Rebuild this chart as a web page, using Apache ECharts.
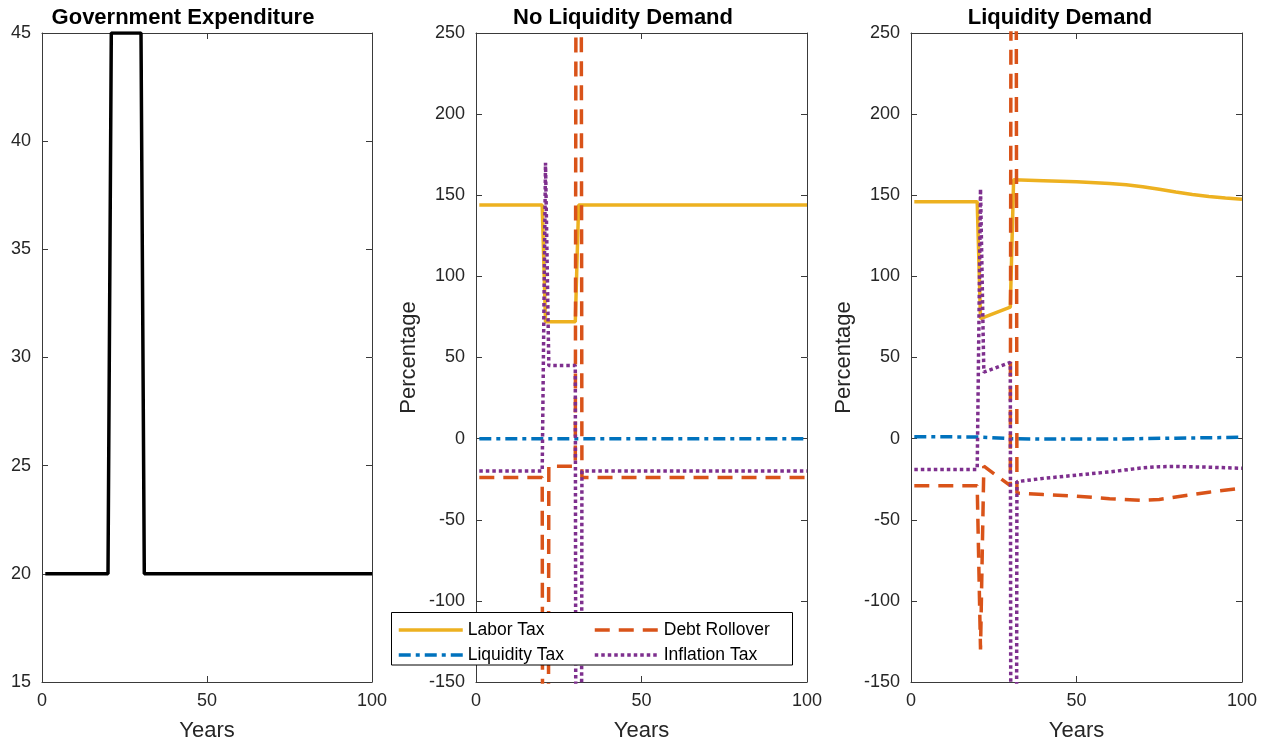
<!DOCTYPE html>
<html>
<head>
<meta charset="utf-8">
<script src="https://cdn.jsdelivr.net/npm/echarts@6/dist/echarts.min.js"></script>
<style>
html,body{margin:0;padding:0;background:#fff;}
#chart{width:1265px;height:745px;}
</style>
</head>
<body>
<div id="chart"></div>
<script>
// ---------- data ----------
const titles = ['Government Expenditure', 'No Liquidity Demand', 'Liquidity Demand'];
const xTicks = [0, 50, 100];
const govYTicks = [15, 20, 25, 30, 35, 40, 45];
const pctYTicks = [-150, -100, -50, 0, 50, 100, 150, 200, 250];
const seriesNames = ['Labor Tax', 'Liquidity Tax', 'Debt Rollover', 'Inflation Tax'];

// Panel 1: government expenditure [year, value]
const govExp = [[1,20],[20,20],[21,45],[30,45],[31,20],[100,20]];

// Panel 2: no liquidity demand [year, percentage]
const noLiqLabor = [[1,144],[20,144],[21,72],[30,72],[31,144],[100,144]];
const noLiqLiquidity = [[1,0],[100,0]];
const noLiqDebt = [[1,-24],[20,-24],[21,-1500],[22,-17],[30,-17],[31,1500],[32,-24],[100,-24]];
const noLiqInflation = [[1,-20],[20,-20],[21,170],[22,45],[30,45],[31,-1500],[32,-20],[100,-20]];

// Panel 3: liquidity demand [year, percentage]
const liqLabor = [[1,146],[20,146],[21,74],[30,81],[31,159.5],[40,159],[50,158.3],[60,157.3],[65,156.5],[70,155.3],[75,153.7],[80,152],[85,150.5],[90,149.2],[95,148.3],[100,147.6]];
const liqLiquidity = [[1,1.2],[20,1],[30,0],[40,-0.3],[60,-0.3],[80,0.3],[100,0.8]];
const liqDebt = [[1,-29],[20,-29],[21,-130],[22,-17],[30,-29],[31,1500],[32,-33.5],[40,-34.5],[50,-35.5],[60,-37],[70,-38],[75,-37.5],[80,-36],[90,-33],[100,-30.5]];
const liqInflation = [[1,-19],[20,-19],[21,154],[22,41],[30,47],[31,-1500],[32,-26.5],[40,-24.5],[50,-22.5],[60,-20.5],[70,-18],[75,-17.3],[80,-17.2],[90,-17.6],[100,-18.3]];

// ---------- styles ----------
const FONT = '"Liberation Sans", Arial, Helvetica, sans-serif';
const AX = '#3a3a3a';
const TXT = '#262626';
const COLORS = {'Labor Tax':'#EDB120','Liquidity Tax':'#0072BD','Debt Rollover':'#D95319','Inflation Tax':'#7E2F8E'};
const DASH = {'Labor Tax':'solid','Liquidity Tax':[12,5,4,5],'Debt Rollover':[15,9],'Inflation Tax':[3.5,3]};

const grids = [
  {left:42, top:33, width:330, height:649, containLabel:false, outerBoundsMode:'none'},
  {left:476, top:33, width:331, height:649, containLabel:false, outerBoundsMode:'none'},
  {left:911, top:33, width:331, height:649, containLabel:false, outerBoundsMode:'none'}
];
const yRanges = [
  {min: govYTicks[0], max: govYTicks[govYTicks.length-1], interval: govYTicks[1]-govYTicks[0]},
  {min: pctYTicks[0], max: pctYTicks[pctYTicks.length-1], interval: pctYTicks[1]-pctYTicks[0]},
  {min: pctYTicks[0], max: pctYTicks[pctYTicks.length-1], interval: pctYTicks[1]-pctYTicks[0]}
];
const xRange = {min: xTicks[0], max: xTicks[xTicks.length-1], interval: xTicks[1]-xTicks[0]};

const xAxes = [], yAxes = [];
for (let g = 0; g < 3; g++) {
  xAxes.push({
    type:'value', gridIndex:g, position:'bottom', ...xRange,
    name:'Years', nameLocation:'middle', nameGap:38,
    nameTextStyle:{fontFamily:FONT, fontSize:22, color:TXT},
    axisLine:{show:true, onZero:false, lineStyle:{color:AX, width:1}},
    axisTick:{show:true, inside:true, length:6, lineStyle:{color:AX}},
    axisLabel:{show:true, margin:10, fontFamily:FONT, fontSize:18, color:TXT},
    splitLine:{show:false}
  });
  yAxes.push({
    type:'value', gridIndex:g, position:'left', ...yRanges[g],
    name: g === 0 ? '' : 'Percentage', nameLocation:'middle', nameGap:56,
    nameTextStyle:{fontFamily:FONT, fontSize:22, color:TXT},
    axisLine:{show:true, onZero:false, lineStyle:{color:AX, width:1}},
    axisTick:{show:true, inside:true, length:6, lineStyle:{color:AX}},
    axisLabel:{show:true, margin:11, fontFamily:FONT, fontSize:18, color:TXT},
    splitLine:{show:false}
  });
}
for (let g = 0; g < 3; g++) {
  xAxes.push({
    type:'value', gridIndex:g, position:'top', ...xRange,
    axisLine:{show:true, onZero:false, lineStyle:{color:AX, width:1}},
    axisTick:{show:true, inside:true, length:6, lineStyle:{color:AX}},
    axisLabel:{show:false}, splitLine:{show:false}
  });
  yAxes.push({
    type:'value', gridIndex:g, position:'right', ...yRanges[g],
    axisLine:{show:true, onZero:false, lineStyle:{color:AX, width:1}},
    axisTick:{show:true, inside:true, length:6, lineStyle:{color:AX}},
    axisLabel:{show:false}, splitLine:{show:false}
  });
}

function lineSeries(name, data, idx) {
  return {
    type:'line', name:name, data:data, xAxisIndex:idx, yAxisIndex:idx,
    symbol:'none', showSymbol:false, clip:true, z:2,
    color: COLORS[name],
    lineStyle:{color:COLORS[name], width:3.5, type:DASH[name], cap:'butt'},
    emphasis:{disabled:true}
  };
}

const series = [
  {type:'line', name:'Government Expenditure', data:govExp, xAxisIndex:0, yAxisIndex:0,
   symbol:'none', clip:true, color:'#000', lineStyle:{color:'#000', width:3.5}},
  lineSeries(seriesNames[0], noLiqLabor, 1),
  lineSeries(seriesNames[1], noLiqLiquidity, 1),
  lineSeries(seriesNames[2], noLiqDebt, 1),
  lineSeries(seriesNames[3], noLiqInflation, 1),
  lineSeries(seriesNames[0], liqLabor, 2),
  lineSeries(seriesNames[1], liqLiquidity, 2),
  lineSeries(seriesNames[2], liqDebt, 2),
  lineSeries(seriesNames[3], liqInflation, 2)
];

const legendCommon = {
  orient:'vertical', top:621, itemWidth:64, itemHeight:14, itemGap:7, z:5,
  padding:0, selectedMode:false,
  itemStyle:{opacity:0, borderWidth:0},
  lineStyle:{width:3.5, cap:'butt'},
  textStyle:{fontFamily:FONT, fontSize:17.5, color:'#000'}
};

const titleCenters = [183, 623, 1060];
const option = {
  animation:false,
  backgroundColor:'#ffffff',
  title: titles.map((t,i) => ({
    text:t, left:titleCenters[i], top:7, textAlign:'center', padding:0,
    textStyle:{fontFamily:FONT, fontSize:22, fontWeight:'bold', color:'#000'}
  })),
  grid: grids,
  xAxis: xAxes,
  yAxis: yAxes,
  legend: [
    Object.assign({}, legendCommon, {data:[seriesNames[0], seriesNames[1]], left:397}),
    Object.assign({}, legendCommon, {data:[seriesNames[2], seriesNames[3]], left:593})
  ],
  graphic: [
    {type:'rect', z:3, shape:{x:391.5, y:612.5, width:401, height:52.5},
     style:{fill:'#ffffff', stroke:'#000000', lineWidth:1}}
  ],
  series: series
};

const chart = echarts.init(document.getElementById('chart'), null, {renderer:'canvas'});
chart.setOption(option);
</script>
</body>
</html>
